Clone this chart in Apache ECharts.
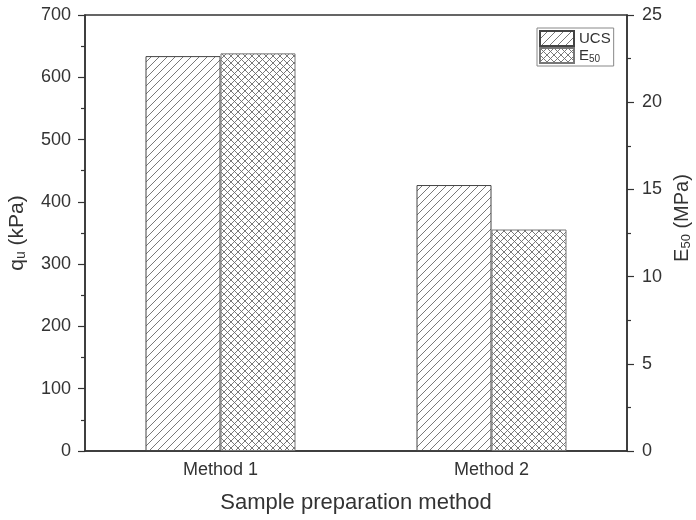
<!DOCTYPE html>
<html>
<head>
<meta charset="utf-8">
<script src="https://cdn.jsdelivr.net/npm/echarts@6/dist/echarts.min.js"></script>
<style>
html, body { margin: 0; padding: 0; background: #fff; }
#chart { width: 696px; height: 520px; }
</style>
</head>
<body>
<div id="chart"></div>
<script>
var methods = ['Method 1', 'Method 2'];
var ucsValues = [634, 427];      // q_u, kPa (left axis)
var e50Values = [22.8, 12.7];    // E50, MPa (right axis)

// hatch tiles for the bars
function hatch(size, cross) {
    var c = document.createElement('canvas');
    c.width = size; c.height = size;
    var ctx = c.getContext('2d');
    ctx.fillStyle = '#fff';
    ctx.fillRect(0, 0, size, size);
    ctx.strokeStyle = '#6a6a6a';
    ctx.lineWidth = 0.9;
    ctx.beginPath();
    ctx.moveTo(0, size); ctx.lineTo(size, 0);
    ctx.moveTo(-1, 1); ctx.lineTo(1, -1);
    ctx.moveTo(size - 1, size + 1); ctx.lineTo(size + 1, size - 1);
    if (cross) {
        ctx.moveTo(0, 0); ctx.lineTo(size, size);
        ctx.moveTo(-1, size - 1); ctx.lineTo(1, size + 1);
        ctx.moveTo(size - 1, -1); ctx.lineTo(size + 1, 1);
    }
    ctx.stroke();
    return { image: c, repeat: 'repeat' };
}

var txt = '#333';
var myChart = echarts.init(document.getElementById('chart'));
var option = {
    backgroundColor: '#fff',
    animation: false,
    textStyle: { fontFamily: 'Liberation Sans, Arial, sans-serif' },
    grid: {
        left: 85, right: 69, top: 15, bottom: 69,
        outerBoundsMode: 'none',
        containLabel: false,
        show: true, borderColor: txt, borderWidth: 1.5
    },
    legend: {
        orient: 'vertical',
        left: 537, top: 28,
        itemWidth: 34, itemHeight: 15, itemGap: 0,
        icon: 'rect',
        borderColor: '#888', borderWidth: 1,
        padding: [2, 3, 2, 2],
        data: ['UCS', 'E50'],
        formatter: function (name) {
            return name === 'E50' ? '{n|E}{s|50}' : '{n|UCS}';
        },
        textStyle: {
            color: txt,
            rich: {
                n: { fontSize: 15, color: txt, lineHeight: 15 },
                s: { fontSize: 10, color: txt, padding: [7, 0, 0, 0], lineHeight: 15 }
            }
        }
    },
    xAxis: {
        type: 'category',
        data: methods,
        axisLine: { lineStyle: { color: txt, width: 1.5 } },
        axisTick: { show: false },
        axisLabel: { fontSize: 18, color: txt, margin: 10 },
        name: 'Sample preparation method',
        nameLocation: 'middle',
        nameGap: 41,
        nameTextStyle: { fontSize: 22, color: txt }
    },
    yAxis: [
        {
            type: 'value',
            min: 0, max: 700, interval: 100,
            axisLine: { show: true, lineStyle: { color: txt, width: 1.5 } },
            axisTick: { show: true, length: 7, lineStyle: { color: txt, width: 1.2 } },
            minorTick: { show: true, splitNumber: 2, length: 4, lineStyle: { color: txt, width: 1.2 } },
            splitLine: { show: false },
            axisLabel: { fontSize: 18, color: txt, margin: 14 },
            name: '{a|q}{s|u}{a| (kPa)}',
            nameLocation: 'middle',
            nameGap: 57,
            nameRotate: 90,
            nameTextStyle: {
                rich: {
                    a: { fontSize: 21, color: txt },
                    s: { fontSize: 14, color: txt, padding: [8, 0, 0, 0] }
                }
            }
        },
        {
            type: 'value',
            position: 'right',
            min: 0, max: 25, interval: 5,
            axisLine: { show: true, lineStyle: { color: txt, width: 1.5 } },
            axisTick: { show: true, length: 7, lineStyle: { color: txt, width: 1.2 } },
            minorTick: { show: true, splitNumber: 2, length: 4, lineStyle: { color: txt, width: 1.2 } },
            splitLine: { show: false },
            axisLabel: { fontSize: 18, color: txt, margin: 15 },
            name: '{a|E}{s|50}{a| (MPa)}',
            nameLocation: 'middle',
            nameGap: 38,
            nameRotate: 90,
            nameTextStyle: {
                padding: [0, 0, 0, 30],
                rich: {
                    a: { fontSize: 20, color: txt },
                    s: { fontSize: 13, color: txt, padding: [8, 0, 0, 0] }
                }
            }
        }
    ],
    series: [
        {
            name: 'UCS',
            type: 'bar',
            yAxisIndex: 0,
            barWidth: 75,
            barGap: '0%',
            data: ucsValues,
            itemStyle: { color: hatch(8, false), borderColor: '#444', borderWidth: 1 }
        },
        {
            name: 'E50',
            type: 'bar',
            yAxisIndex: 1,
            barWidth: 75,
            barGap: '0%',
            data: e50Values,
            itemStyle: { color: hatch(7, true), borderColor: '#777', borderWidth: 1 }
        }
    ]
};
myChart.setOption(option);
</script>
</body>
</html>
